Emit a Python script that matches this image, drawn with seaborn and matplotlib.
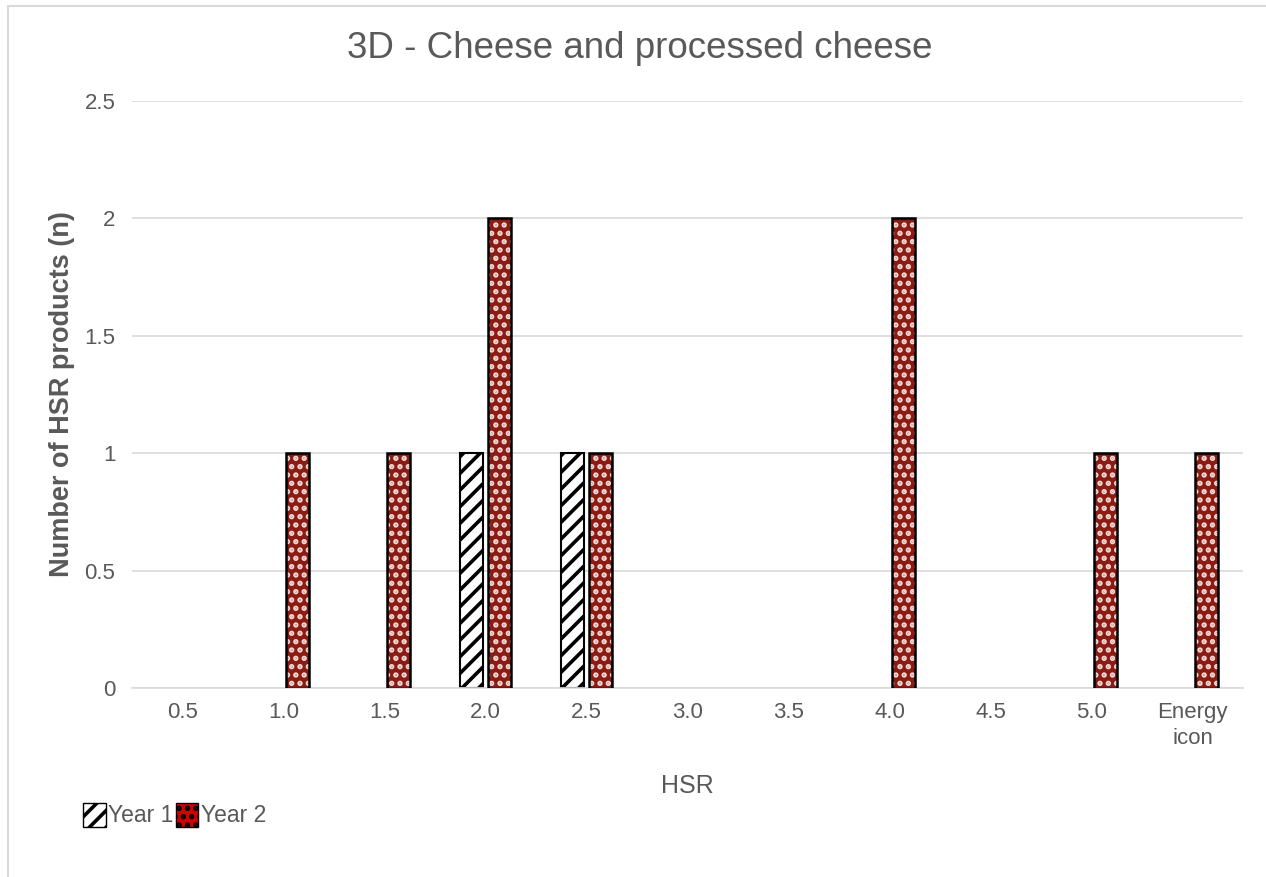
import pandas as pd
import numpy as np
import seaborn as sns
import matplotlib.pyplot as plt
from matplotlib.patches import Rectangle
from matplotlib.ticker import FuncFormatter

# data
hsr = ["0.5", "1.0", "1.5", "2.0", "2.5", "3.0", "3.5", "4.0", "4.5", "5.0", "Energy\nicon"]
year1 = [0, 0, 0, 1, 1, 0, 0, 0, 0, 0, 0]
year2 = [0, 1, 1, 2, 1, 0, 0, 2, 0, 1, 1]
series = ["Year 1", "Year 2"]

df = pd.DataFrame({
    "HSR": hsr * 2,
    "n": year1 + year2,
    "year": [series[0]] * len(hsr) + [series[1]] * len(hsr),
})

sns.set_style("white")
plt.rcParams["font.family"] = ["Liberation Sans", "DejaVu Sans"]
plt.rcParams["hatch.linewidth"] = 2.6
grey = "#595959"
red = "#9E0B00"

fig = plt.figure(figsize=(12.66, 8.77), dpi=100)
ax = fig.add_axes([132 / 1266, 1 - 688 / 877, (1243 - 132) / 1266, (688 - 101) / 877])

sns.barplot(data=df, x="HSR", y="n", hue="year", order=hsr, hue_order=series,
            palette=["white", red], width=0.55, gap=0.17, edgecolor="black",
            linewidth=1.5, legend=False, ax=ax)

# style bars: Year 1 diagonal hatch, Year 2 red with white dots
bars = ax.patches[:]
for i, p in enumerate(bars):
    yr = i // len(hsr)
    if p.get_height() == 0:
        p.set_visible(False)
        continue
    if yr == 0:
        p.set_hatch("//")
        p.set_edgecolor("black")
    else:
        p.set_hatch("..")
        p.set_edgecolor("#F4D8D6")
        p.set_linewidth(0)
        ax.add_patch(Rectangle(p.get_xy(), p.get_width(), p.get_height(),
                               fill=False, edgecolor="black", linewidth=1.8, zorder=3))

ax.set_ylim(0, 2.5)
ax.set_yticks([0, 0.5, 1, 1.5, 2, 2.5])
ax.yaxis.set_major_formatter(FuncFormatter(lambda v, _: f"{v:g}"))
ax.grid(axis="y", color="#D9D9D9", linewidth=1.2)
ax.set_axisbelow(True)
for s in ["top", "right", "left"]:
    ax.spines[s].set_visible(False)
ax.spines["bottom"].set_color("#D9D9D9")
ax.spines["bottom"].set_linewidth(1.2)
ax.tick_params(axis="both", length=0, labelsize=16, colors=grey)
ax.tick_params(axis="x", pad=10)
ax.tick_params(axis="y", pad=12)
for t in ax.get_xticklabels():
    t.set_linespacing(1.35)

ax.set_xlabel("HSR", fontsize=18, color=grey, labelpad=18)
ax.set_ylabel("Number of HSR products (n)", fontsize=19.5, color=grey,
              fontweight="bold", labelpad=7)
fig.text(640 / 1266, 1 - 48 / 877, "3D - Cheese and processed cheese",
         fontsize=26.5, color=grey, ha="center", va="center")

# legend
h1 = Rectangle((0, 0), 1, 1, facecolor="white", edgecolor="black", hatch="//")
h2 = Rectangle((0, 0), 1, 1, facecolor="#D00000", edgecolor="black", hatch="..")
leg = fig.legend([h1, h2], series, loc="lower left", bbox_to_anchor=(62 / 1266, 1 - 848 / 877),
                 ncol=2, frameon=False, fontsize=16.5, handlelength=1.0, handleheight=1.25,
                 handletextpad=0.1, columnspacing=0.1, labelcolor=grey)

# chart border
fig.patches.append(Rectangle((8 / 1266, -0.1), 1.2, 1.1 - 6 / 877, transform=fig.transFigure,
                             fill=False, edgecolor="#D9D9D9", linewidth=1.5))

fig.savefig("out.png", dpi=100)
